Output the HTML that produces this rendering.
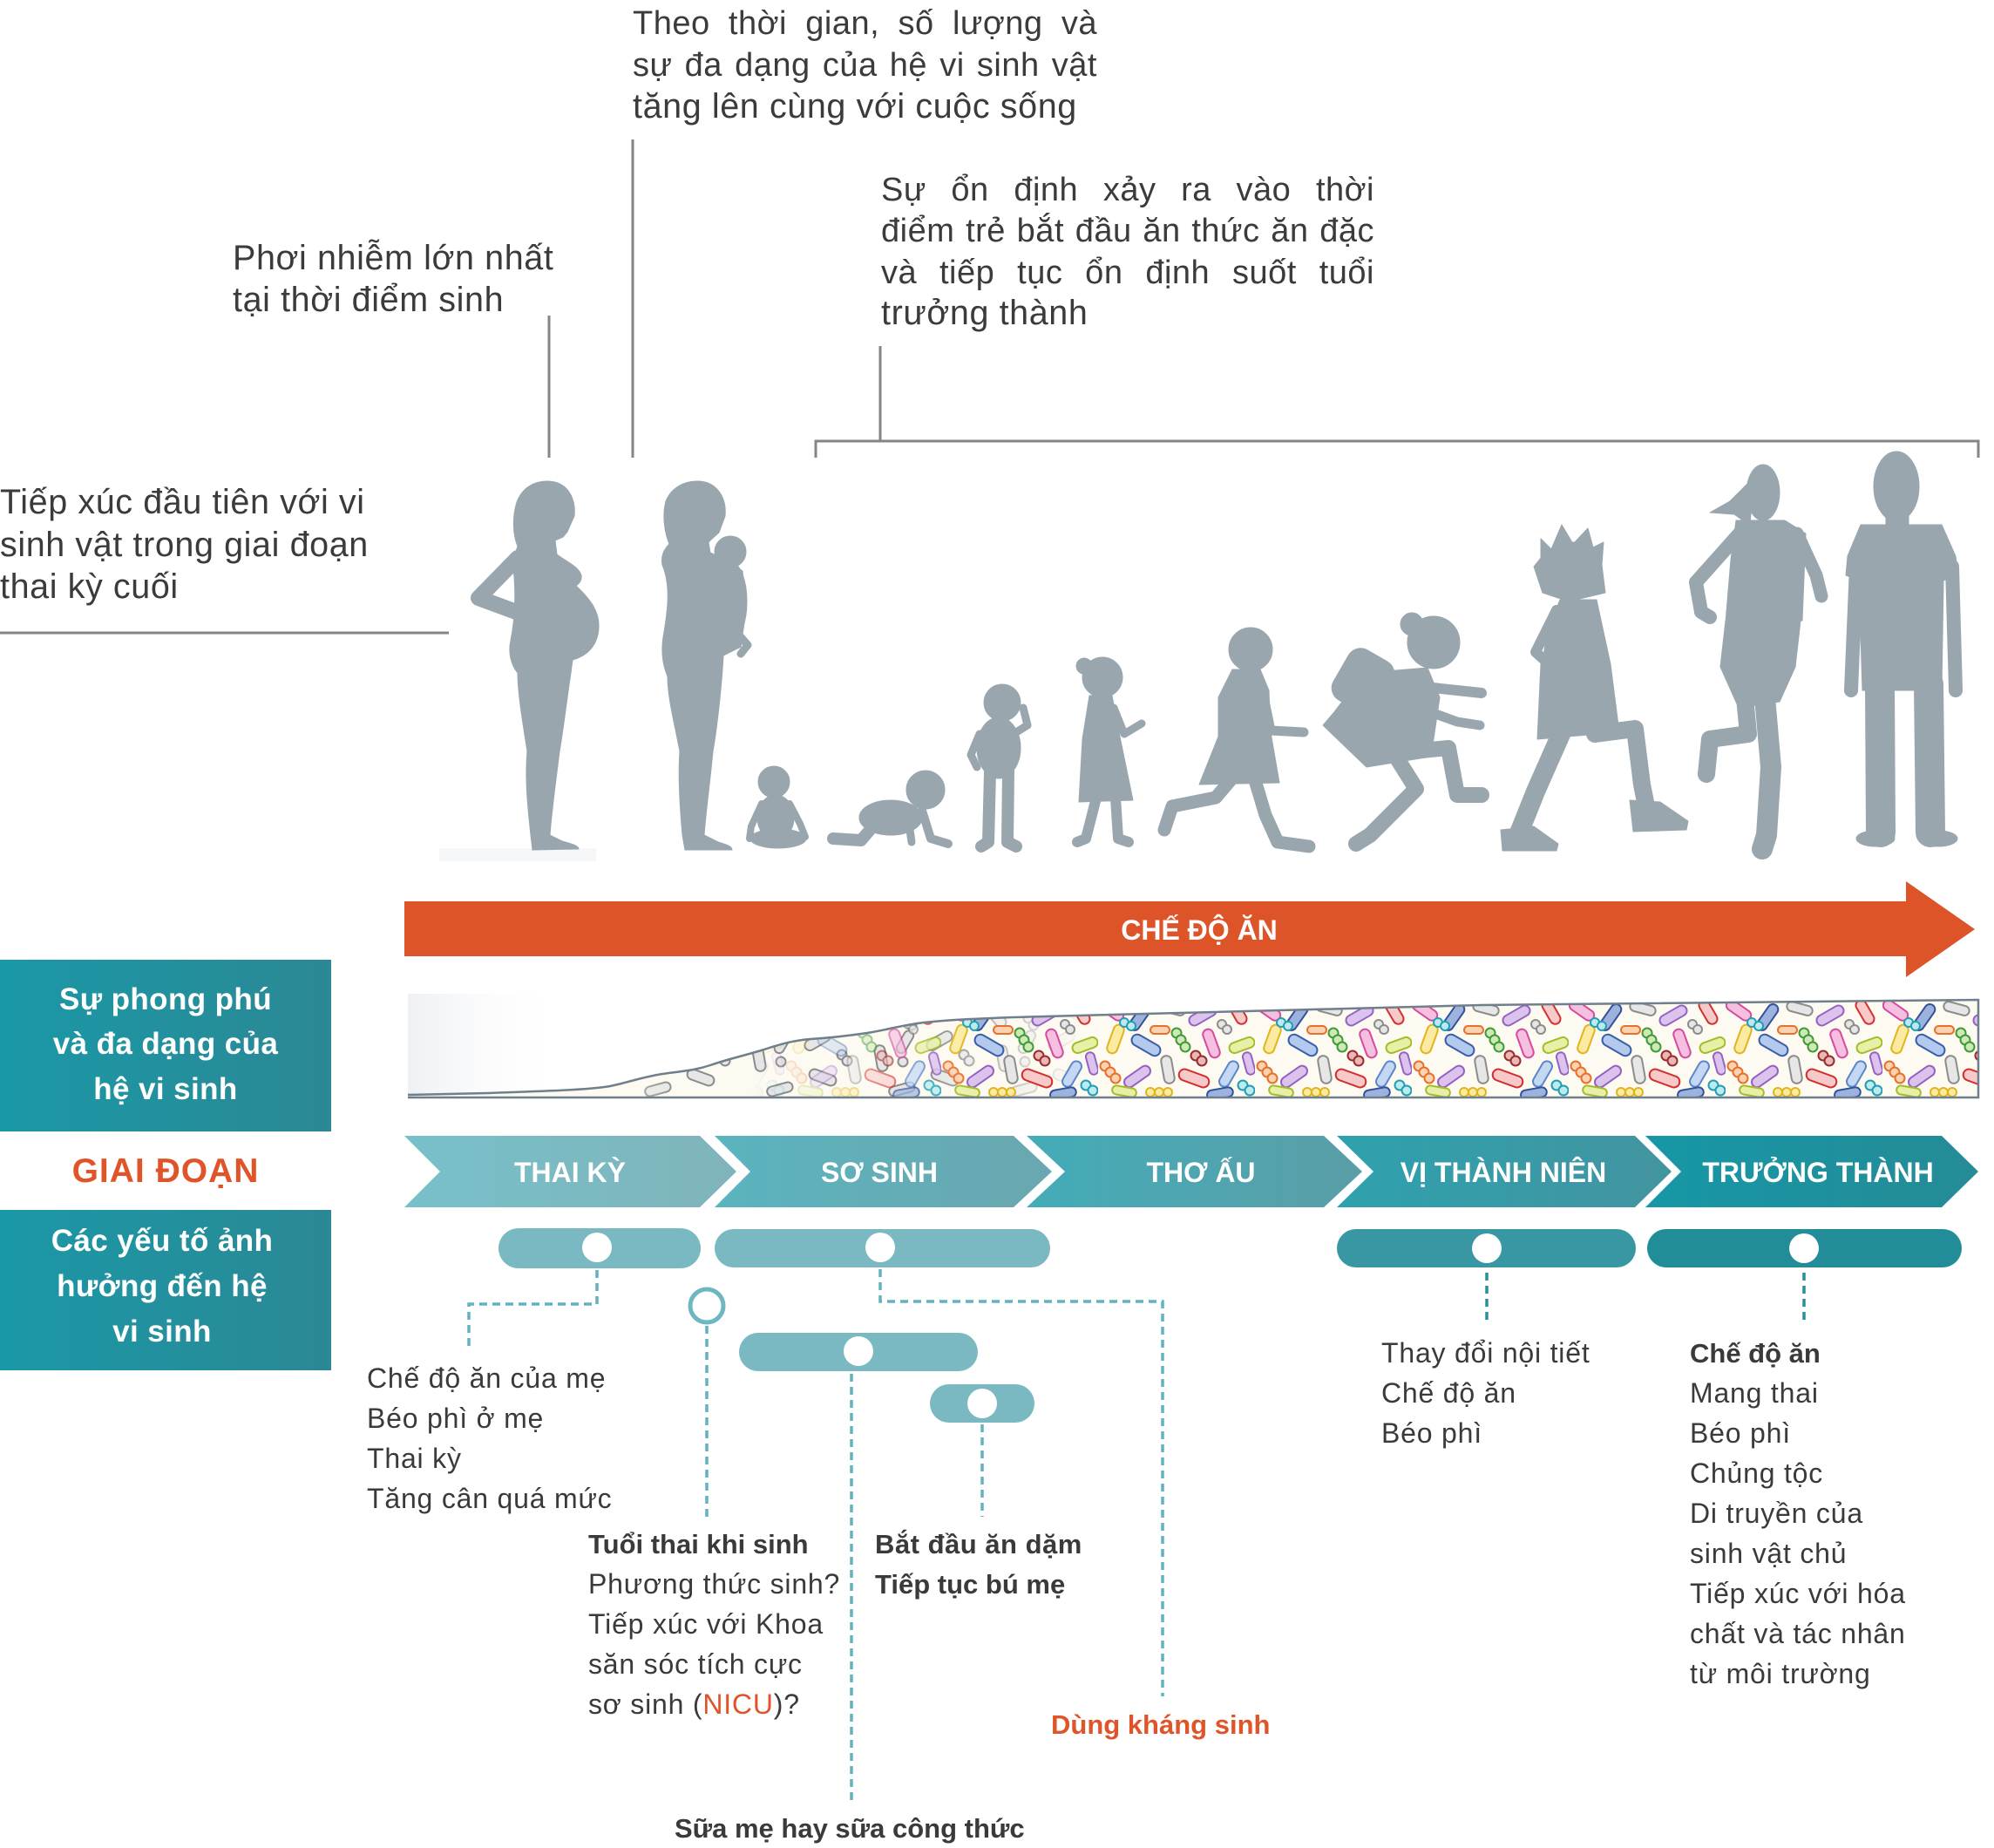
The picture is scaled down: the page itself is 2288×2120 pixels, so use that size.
<!DOCTYPE html>
<html><head><meta charset="utf-8">
<style>
html,body{margin:0;padding:0;background:#fff;}
body{width:2288px;height:2120px;position:relative;overflow:hidden;font-family:"Liberation Sans",Arial,sans-serif;}
svg{position:absolute;left:0;top:0;}
.t{position:absolute;white-space:nowrap;}
.g{font-size:38px;line-height:46px;letter-spacing:0.5px;color:#3b3b3b;}
.g2{font-size:39.5px;line-height:46px;letter-spacing:0.6px;color:#3b3b3b;}
.j{text-align:justify;text-align-last:justify;white-space:normal;}
.r{font-size:32px;line-height:38.4px;letter-spacing:0.8px;color:#3a3a3a;}
.b{font-size:31px;line-height:37.2px;font-weight:bold;color:#3a3a3a;}
.w{font-size:35px;line-height:42px;font-weight:bold;color:#fff;letter-spacing:0.4px;text-align:center;width:380px;left:0;}
.c{font-size:32px;line-height:38.4px;font-weight:bold;color:#fff;text-align:center;width:400px;}
</style></head>
<body>
<svg width="2288" height="2120" viewBox="0 0 2288 2120">
<defs>
  <linearGradient id="box" x1="0" y1="0" x2="1" y2="0"><stop offset="0" stop-color="#1a98a7"/><stop offset="1" stop-color="#2b8894"/></linearGradient>
  <linearGradient id="c1" x1="0" y1="0" x2="1" y2="0"><stop offset="0" stop-color="#77c0c9"/><stop offset="1" stop-color="#80b4bb"/></linearGradient>
  <linearGradient id="c2" x1="0" y1="0" x2="1" y2="0"><stop offset="0" stop-color="#5ab4be"/><stop offset="1" stop-color="#6ba7b0"/></linearGradient>
  <linearGradient id="c3" x1="0" y1="0" x2="1" y2="0"><stop offset="0" stop-color="#43acb8"/><stop offset="1" stop-color="#5b9ea7"/></linearGradient>
  <linearGradient id="c4" x1="0" y1="0" x2="1" y2="0"><stop offset="0" stop-color="#2ea1ae"/><stop offset="1" stop-color="#4394a0"/></linearGradient>
  <linearGradient id="c5" x1="0" y1="0" x2="1" y2="0"><stop offset="0" stop-color="#1697a6"/><stop offset="1" stop-color="#258b96"/></linearGradient>
  <linearGradient id="fade" x1="0" y1="0" x2="1" y2="0"><stop offset="0" stop-color="#eef0f3"/><stop offset="1" stop-color="#ffffff" stop-opacity="0"/></linearGradient>
  <linearGradient id="mgC" gradientUnits="userSpaceOnUse" x1="860" y1="0" x2="1120" y2="0"><stop offset="0" stop-color="#fff" stop-opacity="0"/><stop offset="1" stop-color="#fff" stop-opacity="1"/></linearGradient>
  <linearGradient id="mgG" gradientUnits="userSpaceOnUse" x1="620" y1="0" x2="1250" y2="0"><stop offset="0" stop-color="#fff" stop-opacity="0"/><stop offset="0.25" stop-color="#fff" stop-opacity="1"/><stop offset="0.7" stop-color="#fff" stop-opacity="1"/><stop offset="1" stop-color="#fff" stop-opacity="0"/></linearGradient>
  <mask id="mC"><rect x="0" y="1100" width="2288" height="200" fill="url(#mgC)"/></mask>
  <mask id="mG"><rect x="0" y="1100" width="2288" height="200" fill="url(#mgG)"/></mask>
  <clipPath id="band"><path d="M468,1256 L560,1254 C620,1252 680,1250 700,1246 C720,1242 735,1236 760,1232 C790,1228 800,1227 815,1222 C835,1215 850,1212 870,1206 C890,1200 905,1194 930,1192 C960,1190 975,1188 995,1185 C1020,1181 1035,1176 1060,1173 C1090,1170 1120,1168 1200,1166 L1700,1153 L2270,1147 L2270,1259 L468,1259 Z"/></clipPath>
  <pattern id="pc" width="180" height="112" patternUnits="userSpaceOnUse" x="0" y="1147">
    <g stroke-width="2">
      <rect x="-1" y="6" width="32" height="12" rx="6" transform="rotate(35 15 12)" fill="#f5bfe0" stroke="#d64a9e"/>
      <rect x="31" y="14" width="34" height="12" rx="6" transform="rotate(-55 48 20)" fill="#9db3dd" stroke="#33509a"/>
      <rect x="70" y="4.5" width="30" height="11" rx="5.5" transform="rotate(15 85 10)" fill="#e6e6e6" stroke="#8c8c8c"/>
      <rect x="103" y="12" width="34" height="12" rx="6" transform="rotate(-30 120 18)" fill="#dcc3ee" stroke="#9461c2"/>
      <rect x="145" y="8" width="30" height="12" rx="6" transform="rotate(60 160 14)" fill="#f7c9c9" stroke="#d23030"/>
      <rect x="3" y="39" width="34" height="12" rx="6" transform="rotate(-70 20 45)" fill="#fbeaa0" stroke="#e0b51c"/>
      <rect x="37" y="45.5" width="36" height="13" rx="6.5" transform="rotate(30 55 52)" fill="#b3c9ee" stroke="#3a5ea8"/>
      <circle cx="90" cy="38" r="5.5" fill="#cfe8b8" stroke="#3f9a35"/><circle cx="95" cy="46" r="5.5" fill="#cfe8b8" stroke="#3f9a35"/><circle cx="100" cy="54" r="5.5" fill="#cfe8b8" stroke="#3f9a35"/>
      <rect x="113" y="44" width="34" height="12" rx="6" transform="rotate(70 130 50)" fill="#f5bfe0" stroke="#d64a9e"/>
      <rect x="150" y="46" width="30" height="12" rx="6" transform="rotate(-20 165 52)" fill="#e8f0a8" stroke="#a6bb28"/>
      <circle cx="8" cy="76" r="5.5" fill="#fcd3b2" stroke="#e8702a"/><circle cx="14" cy="83" r="5.5" fill="#fcd3b2" stroke="#e8702a"/><circle cx="20" cy="90" r="5.5" fill="#fcd3b2" stroke="#e8702a"/>
      <rect x="28" y="82" width="34" height="12" rx="6" transform="rotate(-35 45 88)" fill="#dcc3ee" stroke="#9461c2"/>
      <rect x="64" y="74" width="32" height="12" rx="6" transform="rotate(80 80 80)" fill="#e6e6e6" stroke="#8c8c8c"/>
      <rect x="92" y="83.5" width="36" height="13" rx="6.5" transform="rotate(20 110 90)" fill="#f7c9c9" stroke="#d23030"/>
      <rect x="134" y="79" width="32" height="12" rx="6" transform="rotate(-60 150 85)" fill="#c4d8f4" stroke="#5b86c8"/>
      <circle cx="166" cy="98" r="5.5" fill="#bfe9ee" stroke="#1ea0b4"/><circle cx="174" cy="104" r="5.5" fill="#bfe9ee" stroke="#1ea0b4"/>
      <rect x="16" y="100" width="28" height="10" rx="5" transform="rotate(10 30 105)" fill="#e8f0a8" stroke="#a6bb28"/>
      <circle cx="60" cy="106" r="5" fill="#fbeaa0" stroke="#e0b51c"/><circle cx="70" cy="106" r="5" fill="#fbeaa0" stroke="#e0b51c"/><circle cx="80" cy="106" r="5" fill="#fbeaa0" stroke="#e0b51c"/>
      <rect x="125" y="102" width="30" height="11" rx="5.5" transform="rotate(-10 140 108)" fill="#9db3dd" stroke="#33509a"/>
      <circle cx="112" cy="64" r="5.5" fill="#e8b8b8" stroke="#9b2a2a"/><circle cx="119" cy="70" r="5.5" fill="#e8b8b8" stroke="#9b2a2a"/>
      <circle cx="30" cy="26" r="5" fill="#bfe9ee" stroke="#1ea0b4"/><circle cx="38" cy="30" r="5" fill="#bfe9ee" stroke="#1ea0b4"/>
      <circle cx="142" cy="28" r="5" fill="#e6e6e6" stroke="#8c8c8c"/><circle cx="148" cy="34" r="5" fill="#e6e6e6" stroke="#8c8c8c"/>
      <rect x="60" y="30" width="22" height="9" rx="4.5" fill="#fcd3b2" stroke="#e8702a"/>
      <rect x="160" y="68" width="26" height="10" rx="5" transform="rotate(75 173 73)" fill="#dcc3ee" stroke="#9461c2"/>
    </g>
  </pattern>
  <pattern id="pg" width="140" height="112" patternUnits="userSpaceOnUse" x="0" y="1150">
    <g stroke-width="2" fill="#e6e6e6" stroke="#8c8c8c">
      <rect x="6" y="9" width="32" height="12" rx="6" transform="rotate(50 22 15)"/>
      <circle cx="60" cy="18" r="5.5"/><circle cx="66" cy="26" r="5.5"/>
      <rect x="82" y="38" width="32" height="12" rx="6" transform="rotate(-30 98 44)"/>
      <rect x="16" y="58" width="30" height="12" rx="6" transform="rotate(80 31 64)"/>
      <circle cx="56" cy="68" r="5.5"/>
      <rect x="88" y="80" width="32" height="12" rx="6" transform="rotate(20 104 86)"/>
      <circle cx="115" cy="14" r="5.5"/>
      <rect x="44" y="40" width="28" height="11" rx="5.5" transform="rotate(-60 58 45)"/>
      <rect x="40" y="94" width="30" height="11" rx="5.5" transform="rotate(-15 55 100)"/>
      <circle cx="126" cy="60" r="5.5"/><circle cx="132" cy="67" r="5.5"/>
    </g>
  </pattern>
</defs>

<!-- top connector lines -->
<g stroke="#858585" stroke-width="3" fill="none">
  <line x1="630" y1="362" x2="630" y2="525"/>
  <line x1="726" y1="160" x2="726" y2="525"/>
  <line x1="1010" y1="397" x2="1010" y2="506"/>
  <polyline points="936,525 936,506 2270,506 2270,525"/>
  <line x1="0" y1="726" x2="515" y2="726"/>
</g>

<!-- silhouettes -->
<rect x="504" y="973" width="180" height="15" fill="#f5f7f9"/>
<g fill="#9aa6ae" stroke="#9aa6ae" stroke-linecap="round" stroke-linejoin="round">
  <path d="M628,552 C650,552 661,570 659,592 L654,603 L651,610 L646,616 L637,620 L639,636 C651,645 664,650 667,660 C668,666 664,670 661,672 C678,688 688,702 687,720 C686,742 672,753 657,757 L655,772 C650,805 646,840 642,862 C638,895 633,930 631,958 L645,965 C656,968 664,970 664,974 L611,975 L609,958 C606,930 602,895 605,862 C600,830 594,795 594,772 C586,762 583,748 586,735 C590,715 592,690 590,662 C588,648 590,636 594,627 C588,612 588,592 593,576 C599,560 612,552 628,552 Z"/>
  <polyline points="594,640 549,686 606,707" fill="none" stroke-width="18"/>

  <path d="M800,552 C822,552 834,570 832,592 L828,603 L825,611 L817,618 L813,622 L815,634 L832,642 L852,655 L856,700 L850,742 L830,752 C828,790 822,840 818,862 C815,895 810,930 808,958 L824,966 C834,969 840,971 840,975 L786,975 L783,958 C780,925 778,890 780,862 C774,830 766,800 766,776 C760,762 758,745 762,725 C766,700 770,672 760,648 C758,638 762,630 768,624 C762,610 760,590 764,575 C770,560 784,552 800,552 Z"/>
  <circle cx="838" cy="633" r="18"/>
  <ellipse cx="840" cy="690" rx="17" ry="44"/>
  <polyline points="845,725 858,740 850,750" fill="none" stroke-width="9"/>

  <circle cx="888" cy="897" r="18"/>
  <ellipse cx="890" cy="938" rx="21" ry="26"/>
  <ellipse cx="893" cy="962" rx="32" ry="11"/>
  <polyline points="874,922 862,948 860,962" fill="none" stroke-width="8"/>
  <polyline points="906,922 918,945 924,960" fill="none" stroke-width="8"/>

  <circle cx="1062" cy="906" r="22"/>
  <ellipse cx="1022" cy="938" rx="36" ry="20"/>
  <polyline points="1000,950 988,964 956,962" fill="none" stroke-width="14"/>
  <polyline points="1058,930 1068,962 1088,968" fill="none" stroke-width="10"/>
  <polyline points="1043,945 1046,966" fill="none" stroke-width="9"/>

  <circle cx="1150" cy="806" r="21"/>
  <ellipse cx="1146" cy="858" rx="25" ry="35"/>
  <polyline points="1166,840 1179,832 1174,812" fill="none" stroke-width="9"/>
  <polyline points="1124,842 1114,866 1121,880" fill="none" stroke-width="9"/>
  <polyline points="1136,885 1134,966 1126,971" fill="none" stroke-width="14"/>
  <polyline points="1157,885 1156,966 1166,971" fill="none" stroke-width="14"/>

  <circle cx="1265" cy="777" r="23"/>
  <circle cx="1244" cy="764" r="9"/>
  <polygon points="1250,798 1276,798 1286,850 1300,918 1238,920 1242,848"/>
  <polyline points="1278,812 1290,842 1310,830" fill="none" stroke-width="9"/>
  <polyline points="1258,915 1246,962 1236,966" fill="none" stroke-width="12"/>
  <polyline points="1280,915 1283,962 1295,966" fill="none" stroke-width="12"/>

  <circle cx="1435" cy="745" r="25"/>
  <polygon points="1414,768 1446,768 1456,792 1458,842 1398,845 1398,800"/>
  <polygon points="1400,840 1458,840 1468,898 1376,900"/>
  <polyline points="1448,790 1458,838 1496,840" fill="none" stroke-width="11"/>
  <polyline points="1412,895 1395,915 1345,925 1336,952" fill="none" stroke-width="15"/>
  <polyline points="1440,895 1452,935 1466,966 1502,971" fill="none" stroke-width="15"/>

  <circle cx="1645" cy="737" r="30"/>
  <circle cx="1620" cy="716" r="13"/>
  <rect x="1535" y="748" width="58" height="66" rx="16" transform="rotate(30 1564 781)"/>
  <polygon points="1565,772 1638,766 1652,800 1642,868 1568,880 1518,832 1530,818"/>
  <polyline points="1635,788 1700,795" fill="none" stroke-width="12"/>
  <polyline points="1628,812 1672,828 1698,832" fill="none" stroke-width="11"/>
  <polyline points="1598,862 1625,905 1572,958 1556,968" fill="none" stroke-width="18"/>
  <polyline points="1620,862 1662,858 1672,912 1700,912" fill="none" stroke-width="18"/>

  <circle cx="1806" cy="652" r="30"/>
  <polygon points="1768,618 1780,630 1792,602 1805,624 1822,606 1828,628 1840,622 1838,648 1842,680 1800,690 1770,680 1760,650 1768,640"/>
  <polygon points="1790,688 1832,688 1848,762 1768,770 1776,722"/>
  <polyline points="1786,700 1762,748 1784,768" fill="none" stroke-width="12"/>
  <polygon points="1768,762 1848,762 1858,840 1764,848"/>
  <polyline points="1792,840 1762,908 1742,958" fill="none" stroke-width="22"/>
  <polygon points="1722,952 1760,948 1788,968 1786,976 1724,976"/>
  <polyline points="1830,842 1876,836 1884,900 1890,930" fill="none" stroke-width="20"/>
  <polygon points="1870,918 1905,920 1937,942 1935,952 1874,954"/>

  <ellipse cx="2023" cy="565" rx="19" ry="32"/>
  <polygon points="2012,548 1985,575 1962,588 1990,590 2008,603"/>
  <polygon points="1992,597 2048,597 2072,612 2068,712 1980,714 1986,642"/>
  <polyline points="1996,612 1946,668 1952,702 1962,708" fill="none" stroke-width="16"/>
  <polyline points="2062,612 2084,660 2090,684" fill="none" stroke-width="15"/>
  <polygon points="1980,712 2066,712 2060,765 2042,805 1995,812 1974,765"/>
  <polyline points="2025,800 2032,880 2027,958 2022,974" fill="none" stroke-width="24"/>
  <polyline points="2002,800 2006,842 1962,848 1958,888" fill="none" stroke-width="20"/>

  <ellipse cx="2176" cy="558" rx="26" ry="40"/>
  <rect x="2164" y="585" width="26" height="25"/>
  <polygon points="2135,602 2228,602 2244,638 2247,660 2230,666 2228,792 2137,792 2133,666 2118,660 2120,638"/>
  <polyline points="2130,650 2124,792" fill="none" stroke-width="16"/>
  <polyline points="2240,650 2244,792" fill="none" stroke-width="16"/>
  <polyline points="2157,785 2158,955" fill="none" stroke-width="34"/>
  <polyline points="2213,785 2215,955" fill="none" stroke-width="34"/>
  <ellipse cx="2152" cy="962" rx="22" ry="9"/>
  <ellipse cx="2224" cy="962" rx="22" ry="9"/>
</g>

<!-- orange arrow -->
<rect x="464" y="1034" width="1724" height="63" fill="#dc5427"/>
<polygon points="2187,1011 2266,1066 2187,1121" fill="#dc5427"/>

<!-- microbe band -->
<rect x="468" y="1140" width="180" height="119" fill="url(#fade)"/>
<g clip-path="url(#band)">
  <rect x="460" y="1140" width="1820" height="125" fill="#fdfaf2"/>
  <rect x="460" y="1140" width="1820" height="125" fill="url(#pg)" mask="url(#mG)"/>
  <rect x="460" y="1140" width="1820" height="125" fill="url(#pc)" mask="url(#mC)"/>
</g>
<path d="M468,1256 L560,1254 C620,1252 680,1250 700,1246 C720,1242 735,1236 760,1232 C790,1228 800,1227 815,1222 C835,1215 850,1212 870,1206 C890,1200 905,1194 930,1192 C960,1190 975,1188 995,1185 C1020,1181 1035,1176 1060,1173 C1090,1170 1120,1168 1200,1166 L1700,1153 L2270,1147 L2270,1259 L468,1259" fill="none" stroke="#6f7f8c" stroke-width="2.5"/>

<!-- left boxes -->
<rect x="0" y="1101" width="380" height="197" fill="url(#box)"/>
<rect x="0" y="1388" width="380" height="184" fill="url(#box)"/>

<!-- chevrons -->
<polygon points="464,1303 803,1303 845,1344 803,1385 464,1385 505,1344" fill="url(#c1)"/>
<polygon points="820,1303 1163,1303 1207,1344 1163,1385 820,1385 861,1344" fill="url(#c2)"/>
<polygon points="1178,1303 1519,1303 1563,1344 1519,1385 1178,1385 1222,1344" fill="url(#c3)"/>
<polygon points="1534,1303 1876,1303 1918,1344 1876,1385 1534,1385 1576,1344" fill="url(#c4)"/>
<polygon points="1888,1303 2228,1303 2270,1344 2228,1385 1888,1385 1929,1344" fill="url(#c5)"/>

<!-- pills -->
<g fill="#7ab9c1">
  <rect x="572" y="1409" width="232" height="46" rx="23"/>
  <rect x="820" y="1410" width="385" height="44" rx="22"/>
  <rect x="848" y="1529" width="274" height="44" rx="22"/>
  <rect x="1067" y="1588" width="120" height="44" rx="22"/>
</g>
<rect x="1534" y="1410" width="343" height="44" rx="22" fill="#3897a3"/>
<rect x="1890" y="1410" width="361" height="44" rx="22" fill="#218d99"/>
<g fill="#fff">
  <circle cx="685" cy="1431" r="17"/>
  <circle cx="1010" cy="1431" r="17"/>
  <circle cx="985" cy="1550" r="17"/>
  <circle cx="1127" cy="1610" r="17"/>
  <circle cx="1706" cy="1432" r="17"/>
  <circle cx="2070" cy="1432" r="17"/>
</g>
<circle cx="811" cy="1498" r="19" fill="#fff" stroke="#6fb7c0" stroke-width="5"/>

<!-- dotted connectors -->
<g fill="none" stroke="#62b3bd" stroke-width="3.5" stroke-dasharray="9 6">
  <polyline points="685,1457 685,1496 538,1496 538,1547"/>
  <line x1="811" y1="1521" x2="811" y2="1740"/>
  <polyline points="1010,1456 1010,1493 1334,1493 1334,1946"/>
  <line x1="977" y1="1576" x2="977" y2="2066"/>
  <line x1="1127" y1="1634" x2="1127" y2="1740"/>
</g>
<g fill="none" stroke="#2b8f9b" stroke-width="3.5" stroke-dasharray="9 6">
  <line x1="1706" y1="1460" x2="1706" y2="1517"/>
  <line x1="2070" y1="1460" x2="2070" y2="1517"/>
</g>
</svg>

<!-- top texts -->
<div class="t g j" style="left:726px;top:3.8px;width:533px;">Theo thời gian, số lượng và</div>
<div class="t g j" style="left:726px;top:51.8px;width:533px;">sự đa dạng của hệ vi sinh vật</div>
<div class="t g2" style="left:726px;top:99px;">tăng lên cùng với cuộc sống</div>

<div class="t g j" style="left:1011px;top:194.8px;width:566px;">Sự ổn định xảy ra vào thời</div>
<div class="t g j" style="left:1011px;top:241.8px;width:566px;">điểm trẻ bắt đầu ăn thức ăn đặc</div>
<div class="t g j" style="left:1011px;top:289.8px;width:566px;">và tiếp tục ổn định suốt tuổi</div>
<div class="t g2" style="left:1011px;top:336px;">trưởng thành</div>

<div class="t g2" style="left:267px;top:273px;">Phơi nhiễm lớn nhất</div>
<div class="t g2" style="left:267px;top:321px;">tại thời điểm sinh</div>

<div class="t g2" style="left:0px;top:553px;">Tiếp xúc đầu tiên với vi</div>
<div class="t g2" style="left:0px;top:602px;">sinh vật trong giai đoạn</div>
<div class="t g2" style="left:0px;top:650px;">thai kỳ cuối</div>

<!-- arrow label -->
<div class="t c" style="left:1176px;top:1047.7px;">CHẾ ĐỘ ĂN</div>

<!-- left box labels -->
<div class="t w" style="top:1125.9px;">Sự phong phú</div>
<div class="t w" style="top:1176.9px;">và đa dạng của</div>
<div class="t w" style="top:1228.9px;">hệ vi sinh</div>
<div class="t" style="left:0;width:380px;text-align:center;top:1321px;font-size:39px;line-height:46.8px;font-weight:bold;letter-spacing:1px;color:#e0542a;">GIAI ĐOẠN</div>
<div class="t w" style="top:1402.9px;width:372px;">Các yếu tố ảnh</div>
<div class="t w" style="top:1454.9px;width:372px;">hưởng đến hệ</div>
<div class="t w" style="top:1506.9px;width:372px;">vi sinh</div>

<!-- chevron labels -->
<div class="t c" style="left:454px;top:1325.7px;">THAI KỲ</div>
<div class="t c" style="left:809px;top:1325.7px;">SƠ SINH</div>
<div class="t c" style="left:1178px;top:1325.7px;">THƠ ẤU</div>
<div class="t c" style="left:1525px;top:1325.7px;">VỊ THÀNH NIÊN</div>
<div class="t c" style="left:1886px;top:1325.7px;">TRƯỞNG THÀNH</div>

<!-- bottom texts -->
<div class="t r" style="left:421px;top:1561.7px;">Chế độ ăn của mẹ</div>
<div class="t r" style="left:421px;top:1607.7px;">Béo phì ở mẹ</div>
<div class="t r" style="left:421px;top:1653.7px;">Thai kỳ</div>
<div class="t r" style="left:421px;top:1699.7px;">Tăng cân quá mức</div>

<div class="t b" style="left:675px;top:1752.7px;">Tuổi thai khi sinh</div>
<div class="t r" style="left:675px;top:1797.7px;">Phương thức sinh?</div>
<div class="t r" style="left:675px;top:1843.7px;">Tiếp xúc với Khoa</div>
<div class="t r" style="left:675px;top:1889.7px;">săn sóc tích cực</div>
<div class="t r" style="left:675px;top:1935.7px;">sơ sinh (<span style="color:#e0542a;">NICU</span>)?</div>

<div class="t b" style="left:774px;top:2078.7px;">Sữa mẹ hay sữa công thức</div>

<div class="t b" style="left:1004px;top:1752.7px;letter-spacing:0.5px;">Bắt đầu ăn dặm</div>
<div class="t b" style="left:1004px;top:1798.7px;">Tiếp tục bú mẹ</div>

<div class="t b" style="left:1206px;top:1959.7px;color:#e0542a;">Dùng kháng sinh</div>

<div class="t r" style="left:1585px;top:1532.7px;">Thay đổi nội tiết</div>
<div class="t r" style="left:1585px;top:1578.7px;">Chế độ ăn</div>
<div class="t r" style="left:1585px;top:1624.7px;">Béo phì</div>

<div class="t b" style="left:1939px;top:1533.7px;">Chế độ ăn</div>
<div class="t r" style="left:1939px;top:1578.7px;">Mang thai</div>
<div class="t r" style="left:1939px;top:1624.7px;">Béo phì</div>
<div class="t r" style="left:1939px;top:1670.7px;">Chủng tộc</div>
<div class="t r" style="left:1939px;top:1716.7px;">Di truyền của</div>
<div class="t r" style="left:1939px;top:1762.7px;">sinh vật chủ</div>
<div class="t r" style="left:1939px;top:1808.7px;">Tiếp xúc với hóa</div>
<div class="t r" style="left:1939px;top:1854.7px;">chất và tác nhân</div>
<div class="t r" style="left:1939px;top:1900.7px;">từ môi trường</div>
</body></html>
